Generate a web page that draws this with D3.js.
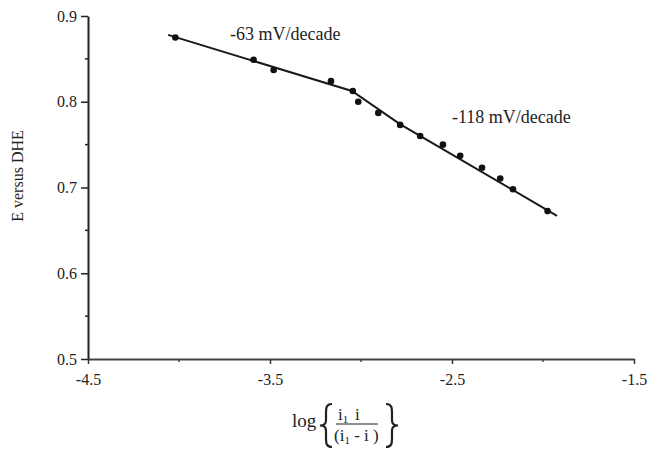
<!DOCTYPE html>
<html>
<head>
<meta charset="utf-8">
<script src="https://cdn.jsdelivr.net/npm/d3@7"></script>
<style>
  body { margin: 0; background: #fff; }
  svg { display: block; }
  text { font-family: "Liberation Serif", "Times New Roman", serif; fill: #222; }
</style>
</head>
<body>
<svg id="chart" width="652" height="450"></svg>
<script>
// measured points: log{i1 i/(i1-i)} vs E (V vs DHE)
var logX = [-4.02, -3.59, -3.48, -3.165, -3.045, -3.015, -2.905, -2.785, -2.675, -2.55, -2.455, -2.335, -2.235, -2.165, -1.975];
var potE = [0.875, 0.849, 0.837, 0.824, 0.8125, 0.800, 0.787, 0.773, 0.760, 0.750, 0.737, 0.723, 0.7105, 0.698, 0.6725];

// Tafel lines as drawn in the figure (start, break, ..., end)
var fitX = [-4.06, -3.05, -2.786, -1.923];
var fitY = [0.878, 0.8125, 0.774, 0.667];

var xTicks = [-4.5, -3.5, -2.5, -1.5];
var xMinor = [-4.0, -3.0, -2.0];
var yTicks = [0.5, 0.6, 0.7, 0.8, 0.9];
var yMinor = [0.55, 0.65, 0.75, 0.85];
var slopeLabels = ["-63 mV/decade", "-118 mV/decade"];

var svg = d3.select("#chart");
var x = d3.scaleLinear().domain([-4.5, -1.5]).range([88, 634]);
var y = d3.scaleLinear().domain([0.5, 0.9]).range([359, 16]);

// plain hyphen minus like the original print
var fmt = function(d) { return d3.format(".1f")(d).replace("\u2212", "-"); };

// y axis
var yAxis = svg.append("g")
  .attr("transform", "translate(" + x(-4.5) + ",0)")
  .call(d3.axisLeft(y).tickValues(yTicks).tickFormat(fmt).tickSize(7).tickPadding(4).tickSizeOuter(0));
yAxis.select(".domain").attr("stroke", "#222").attr("stroke-width", 2);
yAxis.selectAll(".tick line").attr("stroke", "#222").attr("stroke-width", 1.5);
yAxis.selectAll(".tick text").attr("font-size", 16).attr("font-family", "Liberation Serif").attr("fill", "#333");

svg.append("g").selectAll("line")
  .data(yMinor)
  .enter()
  .append("line")
  .attr("x1", x(-4.5) - 3).attr("x2", x(-4.5))
  .attr("y1", function(d) { return y(d); }).attr("y2", function(d) { return y(d); })
  .attr("stroke", "#222").attr("stroke-width", 1.5);

// x axis
var xAxis = svg.append("g")
  .attr("transform", "translate(0," + y(0.5) + ")")
  .call(d3.axisBottom(x).tickValues(xTicks).tickFormat(fmt).tickSize(5).tickPadding(10).tickSizeOuter(0));
xAxis.select(".domain").attr("stroke", "#444").attr("stroke-width", 2);
xAxis.selectAll(".tick line").attr("stroke", "#333").attr("stroke-width", 1.5);
xAxis.selectAll(".tick text").attr("font-size", 16).attr("font-family", "Liberation Serif").attr("fill", "#333");

svg.append("g").selectAll("line")
  .data(xMinor)
  .enter()
  .append("line")
  .attr("x1", function(d) { return x(d); }).attr("x2", function(d) { return x(d); })
  .attr("y1", y(0.5)).attr("y2", y(0.5) + 3)
  .attr("stroke", "#444").attr("stroke-width", 1.5);

// fitted lines
svg.append("path")
  .datum(d3.zip(fitX, fitY))
  .attr("fill", "none")
  .attr("stroke", "#1a1a1a")
  .attr("stroke-width", 2)
  .attr("d", d3.line().x(function(d) { return x(d[0]); }).y(function(d) { return y(d[1]); }));

// data points
svg.append("g").selectAll("circle")
  .data(d3.zip(logX, potE))
  .enter()
  .append("circle")
  .attr("cx", function(d) { return x(d[0]); })
  .attr("cy", function(d) { return y(d[1]); })
  .attr("r", 3.3)
  .attr("fill", "#111");

// slope annotations
svg.append("text").attr("x", 230).attr("y", 40).attr("font-size", 18).text(slopeLabels[0]);
svg.append("text").attr("x", 452).attr("y", 123).attr("font-size", 18).text(slopeLabels[1]);

// y title
svg.append("text")
  .attr("transform", "translate(23,176) rotate(-90)")
  .attr("text-anchor", "middle")
  .attr("font-size", 16)
  .text("E versus DHE");

// x title: log { i1 i / (i1 - i) }
var xt = svg.append("g").attr("font-size", 19);
xt.append("text").attr("x", 292).attr("y", 427).text("log");

function brace(x0, yTop, yBot, dir) {
  var w = 6 * dir, ym = (yTop + yBot) / 2;
  return "M" + (x0 + w) + "," + yTop +
    " C" + (x0) + "," + yTop + " " + (x0) + "," + (yTop + 4) + " " + (x0) + "," + (yTop + 10) +
    " L" + x0 + "," + (ym - 5) +
    " C" + x0 + "," + (ym - 1) + " " + (x0 - w * 0.4) + "," + ym + " " + (x0 - w) + "," + ym +
    " C" + (x0 - w * 0.4) + "," + ym + " " + x0 + "," + (ym + 1) + " " + x0 + "," + (ym + 5) +
    " L" + x0 + "," + (yBot - 10) +
    " C" + x0 + "," + (yBot - 4) + " " + x0 + "," + yBot + " " + (x0 + w) + "," + yBot;
}
xt.append("path").attr("d", brace(326, 404, 447, 1)).attr("fill", "none").attr("stroke", "#222").attr("stroke-width", 2.2);
xt.append("path").attr("d", brace(392, 404, 447, -1)).attr("fill", "none").attr("stroke", "#222").attr("stroke-width", 2.2);

var num = xt.append("text").attr("x", 338).attr("y", 420).attr("font-size", 17);
num.append("tspan").text("i");
num.append("tspan").attr("font-size", 11).attr("dy", 3).text("1");
num.append("tspan").attr("dy", -3).text("\u2009\u2009i");

xt.append("line").attr("x1", 336).attr("x2", 378).attr("y1", 424).attr("y2", 424).attr("stroke", "#222").attr("stroke-width", 1.2);

var den = xt.append("text").attr("x", 334).attr("y", 441).attr("font-size", 17);
den.append("tspan").text("(i");
den.append("tspan").attr("font-size", 11).attr("dy", 3).text("1");
den.append("tspan").attr("dy", -3).text(" - i )");
</script>
</body>
</html>
